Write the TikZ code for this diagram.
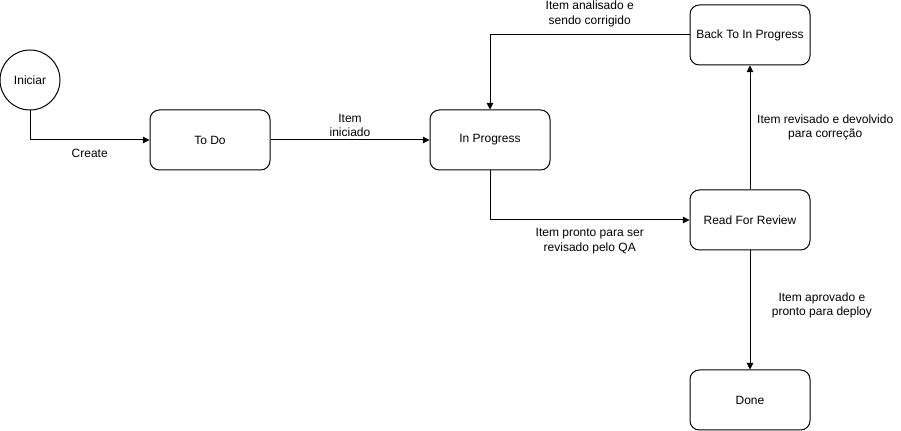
\documentclass[tikz,border=0pt]{standalone}
\usepackage{fontspec}
\setmainfont{Liberation Sans}
\usepackage{tikz}
\usetikzlibrary{arrows.meta, positioning}

\begin{document}
\begin{tikzpicture}
    [>={Triangle[length=5pt,width=5pt]}, x=0.75pt, y=-0.75pt, line width=0.75pt,
    every node/.style={font=\fontsize{9pt}{11pt}\selectfont}]
    % Define styles for states, start node and labels
    \tikzstyle{state} = [draw, fill=white, rectangle, rounded corners=7pt, minimum height=45pt, minimum width=90pt, inner sep=0pt]
    \tikzstyle{start} = [draw, fill=white, circle, minimum size=45pt, inner sep=0pt]
    \tikzstyle{lbl} = [align=center, inner sep=2pt]

    \useasboundingbox (0,0) rectangle (901,431);

    % Nodes placement
    \node [start] (iniciar) at (30,80) {Iniciar};
    \node [state] (todo) at (210,140) {To Do};
    \node [state, right of=todo, node distance=210pt] (progress) {In Progress};
    \node [state] (review) at (750,220) {Read For Review};
    \node [state, above of=review, node distance=138.75pt] (back) {Back To In Progress};
    \node [state, below of=review, node distance=135pt] (done) {Done};

    % Draw edges
    \draw[->] (iniciar.south) |- node[pos=0.75, below=3pt] {Create} (todo.west);
    \draw[->] (todo) -- node[lbl, above] {Item\\iniciado} (progress);
    \draw[->] (progress.south) |- node[lbl, pos=0.75, below=4pt] {Item pronto para ser\\revisado pelo QA} (review.west);
    \draw[->] (review) -- node[lbl, right=3pt] {Item revisado e devolvido\\para correção} (back);
    \draw[->] (back.west) -| node[lbl, pos=0.25, above=4pt] {Item analisado e\\sendo corrigido} (progress.north);
    \draw[->] (review) -- node[lbl, right=14pt, pos=0.46] {Item aprovado e\\pronto para deploy} (done);
\end{tikzpicture}
\end{document}
